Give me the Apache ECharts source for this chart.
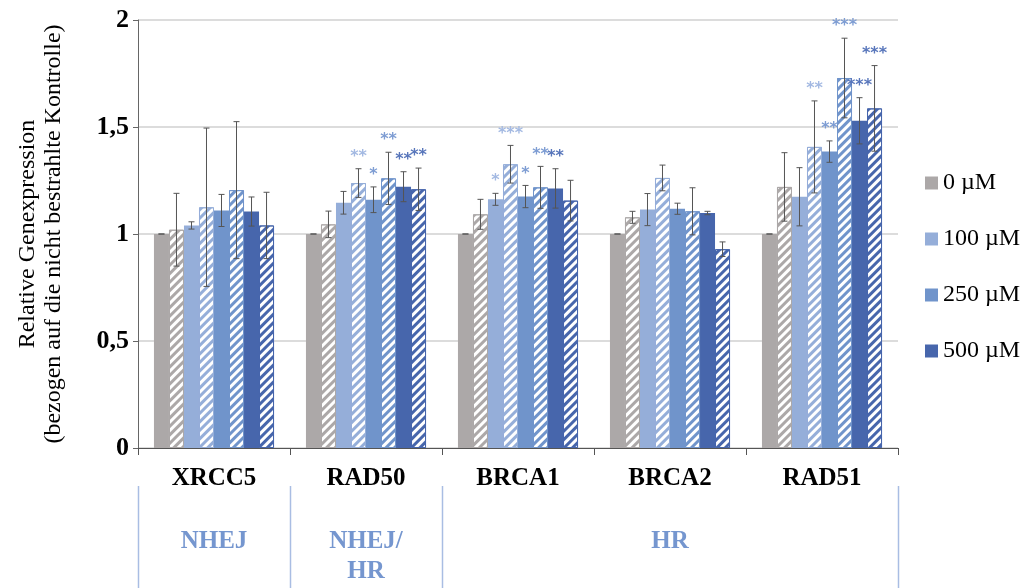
<!DOCTYPE html>
<html>
<head>
<meta charset="utf-8">
<script src="https://cdn.jsdelivr.net/npm/echarts@6/dist/echarts.min.js"></script>
<style>
html, body { margin: 0; padding: 0; background: #fff; }
#chart { width: 1027px; height: 588px; }
</style>
</head>
<body>
<div id="chart"></div>
<script>
var genes = ['XRCC5', 'RAD50', 'BRCA1', 'BRCA2', 'RAD51'];
var doses = ['0 µM', '100 µM', '250 µM', '500 µM'];

// 8 bars per gene: solid then hatched for each dose
var v0 = [1.0, 1.0, 1.0, 1.0, 1.0];
var v0h = [1.02, 1.045, 1.092, 1.078, 1.22];
var v100 = [1.04, 1.146, 1.162, 1.114, 1.174];
var v100h = [1.125, 1.238, 1.326, 1.262, 1.407];
var v250 = [1.11, 1.16, 1.175, 1.118, 1.385];
var v250h = [1.205, 1.26, 1.218, 1.106, 1.729];
var v500 = [1.105, 1.221, 1.213, 1.098, 1.529];
var v500h = [1.04, 1.209, 1.156, 0.929, 1.587];

var e0 = [0, 0, 0, 0, 0];
var e0h = [0.17, 0.062, 0.07, 0.028, 0.16];
var e100 = [0.017, 0.053, 0.028, 0.075, 0.136];
var e100h = [0.37, 0.067, 0.088, 0.06, 0.215];
var e250 = [0.075, 0.06, 0.052, 0.026, 0.05];
var e250h = [0.32, 0.122, 0.098, 0.11, 0.186];
var e500 = [0.068, 0.07, 0.092, 0.008, 0.108];
var e500h = [0.155, 0.099, 0.095, 0.034, 0.2];

var s0 = ['', '', '', '', ''];
var s0h = ['', '', '', '', ''];
var s100 = ['', '', '*', '', ''];
var s100h = ['', '**', '***', '', '**'];
var s250 = ['', '*', '*', '', '**'];
var s250h = ['', '**', '**', '', '***'];
var s500 = ['', '**', '**', '', '***'];
var s500h = ['', '**', '', '', '***'];

var colors = ['#aca8a8', '#95aed9', '#7094cb', '#4766ac'];
var starColors = ['#999', '#a3b9e2', '#7e9dd3', '#5876bb'];

var values = [v0, v0h, v100, v100h, v250, v250h, v500, v500h];
var errors = [e0, e0h, e100, e100h, e250, e250h, e500, e500h];
var stars = [s0, s0h, s100, s100h, s250, s250h, s500, s500h];

var catGap = 0.21;
var nBars = values.length;

var series = [];
values.forEach(function (vals, i) {
    var c = colors[Math.floor(i / 2)];
    var hatched = i % 2 === 1;
    var s = {
        name: doses[Math.floor(i / 2)] + (hatched ? ' ' : ''),
        type: 'bar',
        data: vals,
        barGap: '0%',
        barCategoryGap: (catGap * 100) + '%',
        itemStyle: { color: c }
    };
    if (hatched) {
        s.itemStyle = {
            color: '#fff',
            borderColor: c,
            borderWidth: 1,
            decal: {
                symbol: 'rect',
                color: c,
                dashArrayX: [1, 0],
                dashArrayY: [3, 3],
                rotation: -Math.PI / 4
            }
        };
    }
    series.push(s);
});

var errData = [];
values.forEach(function (vals, i) {
    vals.forEach(function (v, j) {
        errData.push([j, i, v, errors[i][j], stars[i][j]]);
    });
});

series.push({
    type: 'custom',
    z: 10,
    data: errData,
    encode: { x: 0, y: 2 },
    renderItem: function (params, api) {
        var cat = api.value(0), idx = api.value(1), v = api.value(2), e = api.value(3);
        var st = errData[params.dataIndex][4];
        var band = api.size([1, 0])[0];
        var bw = band * (1 - catGap) / nBars;
        var x = api.coord([cat, 0])[0] - band * (1 - catGap) / 2 + (idx + 0.5) * bw;
        var yHi = api.coord([cat, v + e])[1];
        var yLo = api.coord([cat, v - e])[1];
        var ls = { stroke: '#555', lineWidth: 1 };
        var kids = [
            { type: 'line', shape: { x1: x, y1: yHi, x2: x, y2: yLo }, style: ls },
            { type: 'line', shape: { x1: x - 3, y1: yHi, x2: x + 3, y2: yHi }, style: ls },
            { type: 'line', shape: { x1: x - 3, y1: yLo, x2: x + 3, y2: yLo }, style: ls }
        ];
        if (st) {
            kids.push({
                type: 'text',
                style: {
                    text: st, x: x, y: yHi - 4,
                    align: 'center', verticalAlign: 'bottom',
                    fill: starColors[Math.floor(idx / 2)],
                    font: 'bold 16px "DejaVu Sans"'
                }
            });
        }
        return { type: 'group', children: kids };
    }
});

var chart = echarts.init(document.getElementById('chart'));
var serif = '"Liberation Serif", "Times New Roman", serif';

chart.setOption({
    animation: false,
    grid: { left: 138, right: 129, top: 20, bottom: 140 },
    legend: {
        data: doses,
        orient: 'vertical',
        left: 920,
        top: 165,
        icon: 'rect',
        itemWidth: 13,
        itemHeight: 13,
        itemGap: 30,
        textStyle: { fontFamily: serif, fontSize: 24, color: '#000', lineHeight: 26 }
    },
    xAxis: {
        type: 'category',
        data: genes,
        axisLine: { lineStyle: { color: '#555' } },
        axisTick: { show: true, length: 7, lineStyle: { color: '#555' } },
        axisLabel: { fontFamily: serif, fontWeight: 'bold', fontSize: 25, color: '#000', margin: 18 }
    },
    yAxis: {
        type: 'value',
        min: 0,
        max: 2,
        interval: 0.5,
        name: 'Relative Genexpression\n(bezogen auf die nicht bestrahlte Kontrolle)',
        nameLocation: 'middle',
        nameGap: 71,
        nameTextStyle: { fontFamily: serif, fontSize: 24, color: '#000', lineHeight: 26 },
        axisLine: { show: true, lineStyle: { color: '#666' } },
        axisTick: { show: true, length: 5, lineStyle: { color: '#666' } },
        axisLabel: {
            fontFamily: serif, fontWeight: 'bold', fontSize: 26, color: '#000', margin: 9,
            formatter: function (v) { return String(v).replace('.', ','); }
        },
        splitLine: { lineStyle: { color: '#d0d0d0', width: 1.5 } }
    },
    series: series
});

// group brackets below the gene labels
var groups = [
    { label: 'NHEJ', from: 0, to: 0 },
    { label: 'NHEJ/\nHR', from: 1, to: 1 },
    { label: 'HR', from: 2, to: 4 }
];
var band = chart.convertToPixel({ xAxisIndex: 0 }, 1) - chart.convertToPixel({ xAxisIndex: 0 }, 0);
var gfx = [];
var edges = {};
groups.forEach(function (g) {
    var xa = chart.convertToPixel({ xAxisIndex: 0 }, g.from) - band / 2;
    var xb = chart.convertToPixel({ xAxisIndex: 0 }, g.to) + band / 2;
    edges[Math.round(xa)] = xa;
    edges[Math.round(xb)] = xb;
    gfx.push({
        type: 'text',
        x: (xa + xb) / 2,
        y: 527,
        style: {
            text: g.label, align: 'center', verticalAlign: 'top',
            font: 'bold 25px ' + serif, fill: '#7596cf', lineHeight: 30
        }
    });
});
Object.keys(edges).forEach(function (k) {
    var x = Math.round(edges[k]) + 0.5;
    gfx.push({
        type: 'line',
        shape: { x1: x, y1: 486, x2: x, y2: 588 },
        style: { stroke: '#a9bde3', lineWidth: 1.5 }
    });
});
chart.setOption({ graphic: gfx });
</script>
</body>
</html>
